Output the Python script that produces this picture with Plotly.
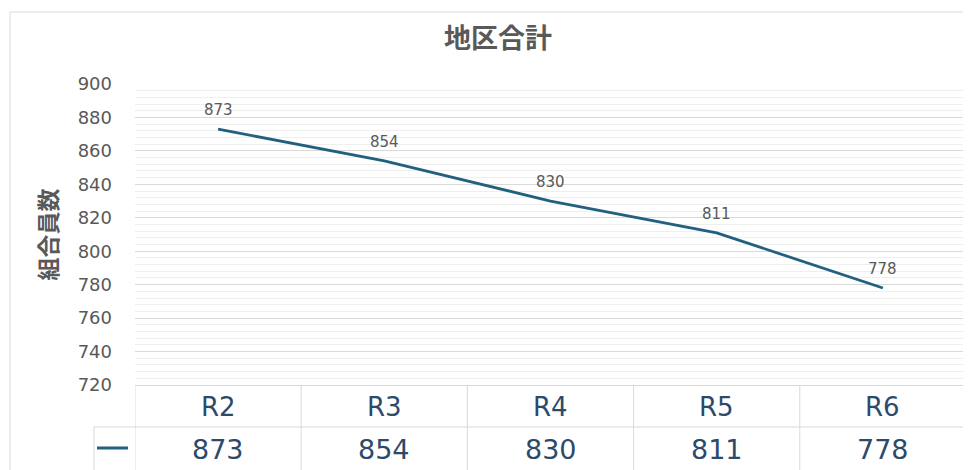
import plotly.graph_objects as go

categories = ["R2", "R3", "R4", "R5", "R6"]
members = [873, 854, 830, 811, 778]
y_ticks = [720, 740, 760, 780, 800, 820, 840, 860, 880, 900]

OFF = 8  # page body margin offset
W, H = 971 - OFF, 470 - OFF
L, R, T, B = 135 - OFF, 5, 84 - OFF, 85
PW, PH = W - L - R, H - T - B

def px_x(px):
    return (px - OFF - L) / PW

def px_y(py):
    return (H - B - (py - OFF)) / PH

LINE = "#22607f"
TXT = "#595959"
TBL = "#2d4a6b"
GRID = "#d9d9d9"
FONT = "DejaVu Sans, Noto Sans CJK JP, sans-serif"
CJK = "Noto Sans CJK JP"

fig = go.Figure()
fig.add_trace(go.Scatter(
    x=categories, y=members, mode="lines",
    line=dict(color=LINE, width=2.8), showlegend=False, hoverinfo="skip",
))

annotations = []
for c, v in zip(categories, members):
    annotations.append(dict(x=c, y=v, xref="x", yref="y", text=str(v), showarrow=False,
                            yshift=19, font=dict(size=15, color=TXT, family=FONT)))
    annotations.append(dict(x=c, y=px_y(407), xref="x", yref="paper", text=c, showarrow=False,
                            yanchor="middle", font=dict(size=26, color=TBL, family=FONT)))
    annotations.append(dict(x=c, y=px_y(449), xref="x", yref="paper", text=str(v), showarrow=False,
                            yanchor="middle", font=dict(size=27, color=TBL, family=FONT)))

shapes = []
bcol = "#d9d9d9"
for i in range(len(categories) + 1):
    shapes.append(dict(type="line", xref="x", yref="paper", x0=i - 0.5, x1=i - 0.5,
                       y0=0, y1=px_y(475), line=dict(color=bcol, width=1)))
shapes.append(dict(type="line", xref="paper", yref="paper", x0=px_x(94), x1=1,
                   y0=px_y(427), y1=px_y(427), line=dict(color=bcol, width=1)))
shapes.append(dict(type="line", xref="paper", yref="paper", x0=px_x(94), x1=px_x(94),
                   y0=px_y(427), y1=px_y(475), line=dict(color=bcol, width=1)))
shapes.append(dict(type="line", xref="paper", yref="paper", x0=px_x(97), x1=px_x(128),
                   y0=px_y(448), y1=px_y(448), line=dict(color=LINE, width=3)))
shapes.append(dict(type="line", xref="paper", yref="paper", x0=px_x(10), x1=px_x(980),
                   y0=px_y(12), y1=px_y(12), line=dict(color="#d9d9d9", width=1)))
shapes.append(dict(type="line", xref="paper", yref="paper", x0=px_x(10), x1=px_x(10),
                   y0=px_y(12), y1=px_y(480), line=dict(color="#d9d9d9", width=1)))

fig.update_layout(
    width=W, height=H,
    margin=dict(l=L, r=R, t=T, b=B),
    paper_bgcolor="white", plot_bgcolor="white",
    font=dict(family=FONT, color=TXT),
    title=dict(text="<b>地区合計</b>", xref="container", yref="container",
               x=(498 - OFF) / W, y=1 - (39 - OFF) / H, xanchor="center", yanchor="middle",
               font=dict(size=27, color=TXT, family=CJK)),
    annotations=annotations,
    shapes=shapes,
)
fig.update_xaxes(range=[-0.5, 4.5], showticklabels=False, showgrid=False,
                 showline=True, linecolor=bcol, linewidth=1, ticks="", zeroline=False)
fig.update_yaxes(range=[720, 900], tickvals=y_ticks, showgrid=True, gridcolor=GRID, gridwidth=1,
                 minor=dict(dtick=4, tick0=720, showgrid=True, gridcolor="#efefef", gridwidth=1),
                 ticks="", ticklabelstandoff=22, zeroline=False, showline=False,
                 tickfont=dict(size=18, color=TXT, family=FONT),
                 title=dict(text="<b>組合員数</b>", standoff=13,
                            font=dict(size=23, color=TXT, family=CJK)))

fig.write_html("out.html")
